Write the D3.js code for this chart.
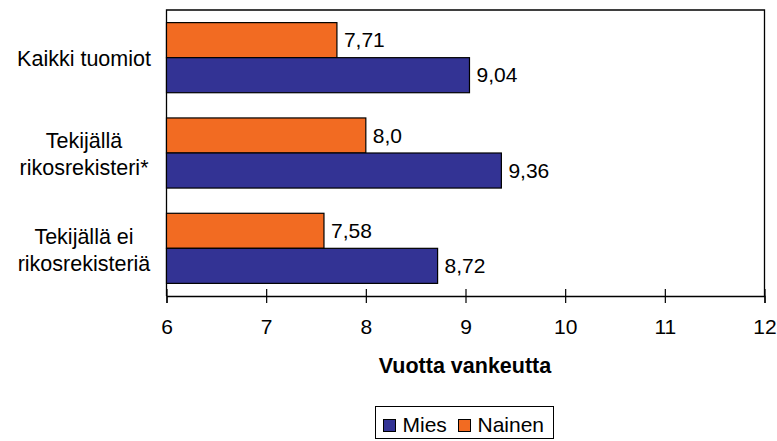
<!DOCTYPE html>
<html><head><meta charset="utf-8">
<script src="https://cdn.jsdelivr.net/npm/d3@7"></script>
<style>html,body{margin:0;padding:0;background:#fff;}svg{display:block;font-family:"Liberation Sans",Arial,sans-serif;}</style>
</head><body>
<svg id="c" width="777" height="441"></svg>
<script>
const categories = [["Kaikki tuomiot"], ["Tekijällä", "rikosrekisteri*"], ["Tekijällä ei", "rikosrekisteriä"]];
const mies = [9.04, 9.36, 8.72];
const nainen = [7.71, 8.0, 7.58];
const miesLabels = ["9,04", "9,36", "8,72"];
const nainenLabels = ["7,71", "8,0", "7,58"];
const xTicks = [6, 7, 8, 9, 10, 11, 12];
const xTitle = "Vuotta vankeutta";
const seriesNames = ["Mies", "Nainen"];
const colors = {Mies: "#333394", Nainen: "#F26B22"};

const FS = 21;
const svg = d3.select("#c");
const L = 166.5, R = 764.5, T = 10, B = 296;
const x = d3.scaleLinear().domain([6, 12]).range([L, R]);
const y = d3.scaleBand().domain(d3.range(categories.length)).range([T, B]).paddingInner(0).paddingOuter(0);
const sub = d3.scaleBand().domain(["Nainen", "Mies"]).range([0, y.bandwidth()]).paddingInner(0.0).paddingOuter(0.36);

// frame
svg.append("path").attr("d", `M${L},${B}V${T}H${R}V${B}`).attr("fill", "none").attr("stroke", "#000").attr("stroke-width", 1.3);

const rows = categories.map((c, i) => ({i, c, Mies: mies[i], Nainen: nainen[i], ml: miesLabels[i], nl: nainenLabels[i]}));
const g = svg.append("g");
rows.forEach(r => {
  [["Nainen", r.Nainen, r.nl], ["Mies", r.Mies, r.ml]].forEach(([k, v, lab]) => {
    const yy = y(r.i) + sub(k);
    g.append("rect").attr("x", x(6)).attr("y", yy).attr("width", x(v) - x(6)).attr("height", sub.bandwidth())
      .attr("fill", colors[k]).attr("stroke", "#000").attr("stroke-width", 1.2);
    g.append("text").attr("x", x(v) + 7).attr("y", yy + sub.bandwidth() / 2).attr("dy", "0.34em")
      .attr("font-size", FS).attr("fill", "#000").text(lab);
  });
  // category label
  const n = r.c.length;
  const cy = y(r.i) + y.bandwidth() / 2;
  const t = svg.append("text").attr("text-anchor", "middle").attr("font-size", 21.5).attr("fill", "#000");
  r.c.forEach((line, j) => {
    t.append("tspan").attr("x", 84).attr("y", cy + 3 + (j - (n - 1) / 2) * 27).attr("dy", "0.27em").text(line);
  });
});

// x axis
const ax = svg.append("g").attr("transform", `translate(0,${B})`)
  .call(d3.axisBottom(x).tickValues(xTicks).tickSize(7).tickPadding(16).tickFormat(d => d));
ax.select(".domain").attr("stroke", "#000").attr("stroke-width", 1.3);
ax.selectAll(".tick line").attr("y1", -7).attr("y2", 7).attr("stroke", "#000").attr("stroke-width", 1.2);
ax.selectAll(".tick text").attr("font-size", FS).attr("font-family", "Liberation Sans, Arial, sans-serif").attr("fill", "#000");

svg.append("text").attr("x", 465).attr("y", 373).attr("text-anchor", "middle")
  .attr("font-size", 21.5).attr("font-weight", "bold").attr("fill", "#000").text(xTitle);

// legend
const lg = svg.append("g");
lg.append("rect").attr("x", 375.5).attr("y", 406.5).attr("width", 178).attr("height", 32).attr("fill", "#fff").attr("stroke", "#000").attr("stroke-width", 1);
const legX = [383.5, 458.5];
seriesNames.forEach((s, i) => {
  lg.append("rect").attr("x", legX[i]).attr("y", 419.5).attr("width", 12).attr("height", 12).attr("fill", colors[s]).attr("stroke", "#000").attr("stroke-width", 1);
  lg.append("text").attr("x", legX[i] + 19).attr("y", 431.5).attr("font-size", FS).attr("fill", "#000").text(s);
});
</script>
</body></html>
